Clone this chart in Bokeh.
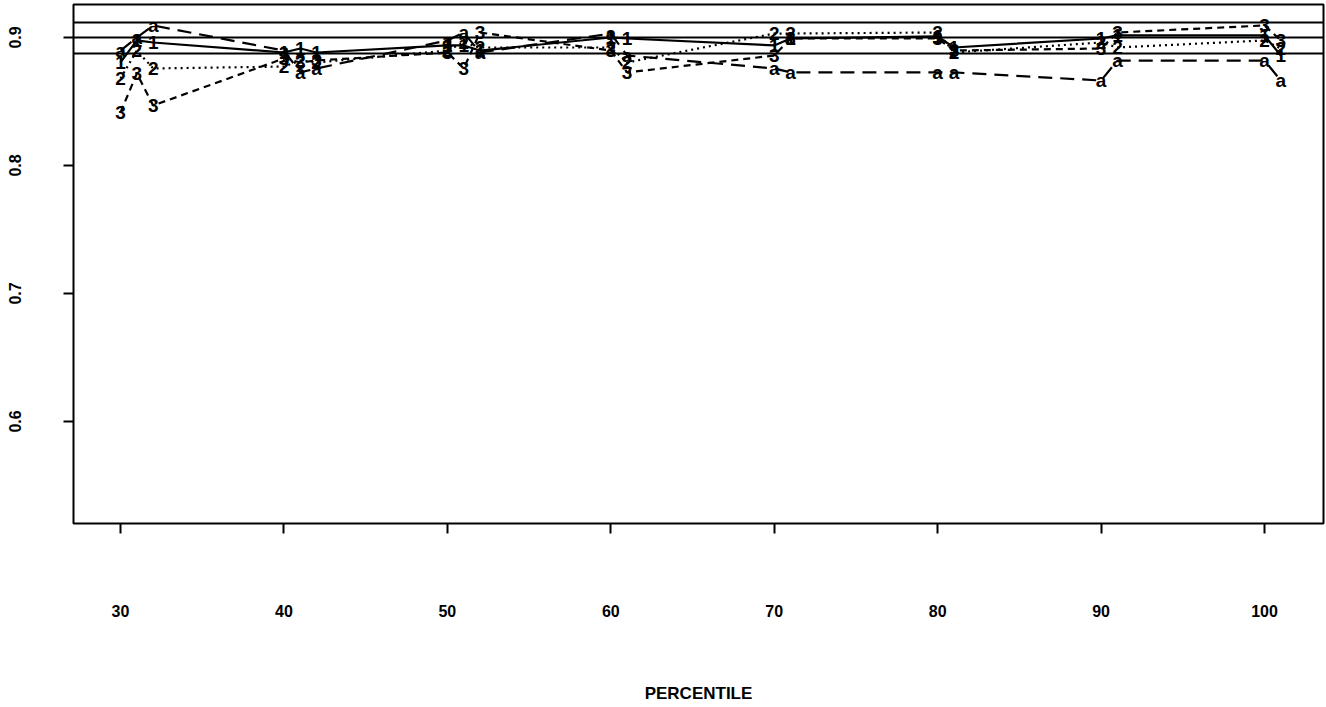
from bokeh.plotting import figure
from bokeh.models import Span, FixedTicker, Range1d
from bokeh.embed import file_html
from bokeh.resources import INLINE
from bokeh.core.properties import value

# Percentile positions (each cluster has slightly offset columns)
x = [30, 31, 32, 40, 41, 42, 50, 51, 52, 60, 61, 70, 71, 80, 81, 90, 91, 100, 101]

s1 = [0.8805, 0.8977, 0.8961, 0.8883, 0.8914, 0.8883, 0.8938, 0.8938, 0.8898, 0.9000,
      0.8992, 0.8938, 0.8992, 0.9008, 0.8922, 0.8992, 0.9016, 0.9016, 0.8859]
s2 = [0.8680, 0.8898, 0.8758, 0.8773, 0.8820, 0.8805, 0.8898, 0.8961, 0.8922, 0.8922,
      0.8805, 0.9031, 0.9031, 0.9039, 0.8883, 0.8961, 0.8922, 0.8977, 0.8914]
s3 = [0.8414, 0.8719, 0.8469, 0.8836, 0.8805, 0.8820, 0.8883, 0.8758, 0.9039, 0.8898,
      0.8727, 0.8859, 0.8992, 0.8992, 0.8898, 0.8914, 0.9039, 0.9094, 0.8977]
sa = [0.8898, 0.9000, 0.9094, 0.8898, 0.8727, 0.8758, 0.8977, 0.9039, 0.8883, 0.9031,
      0.8859, 0.8758, 0.8727, 0.8727, 0.8727, 0.8664, 0.8820, 0.8820, 0.8664]

series_labels = ["1", "2", "3", "a"]
series_values = [s1, s2, s3, sa]
series_dash = ["solid", "2 4", "7 5", "14 8"]

ref_lines = [0.9117, 0.9000, 0.8875]
x_ticks = [30, 40, 50, 60, 70, 80, 90, 100]
y_ticks = [0.6, 0.7, 0.8, 0.9]
x_title = "PERCENTILE"

FONT = "Liberation Sans"

p = figure(width=1326, height=707,
           x_range=Range1d(27.124, 103.61), y_range=Range1d(0.52031, 0.92578),
           output_backend="svg", toolbar_location=None,
           min_border_left=73, min_border_right=3, min_border_top=4, min_border_bottom=184)

p.xgrid.visible = False
p.ygrid.visible = False
p.outline_line_color = "black"
p.outline_line_width = 2
p.background_fill_color = "white"
p.border_fill_color = "white"

for yy in ref_lines:
    p.add_layout(Span(location=yy, dimension="width", line_color="black", line_width=2))

for lab, vals, dash in zip(series_labels, series_values, series_dash):
    p.line(x, vals, line_color="black", line_width=2.2, line_dash=dash)
    p.text(x=x, y=vals, text=[lab] * len(x), text_font=value(FONT), text_font_style="bold",
           text_font_size="19px", text_align="center", text_baseline="middle",
           text_color="black")

p.xaxis.ticker = FixedTicker(ticks=x_ticks)
p.yaxis.ticker = FixedTicker(ticks=y_ticks)
for ax in (p.xaxis, p.yaxis):
    ax.axis_line_color = None
    ax.major_tick_line_color = "black"
    ax.major_tick_line_width = 2
    ax.major_tick_in = 0
    ax.major_tick_out = 10
    ax.minor_tick_line_color = None
    ax.major_label_text_font = FONT
    ax.major_label_text_font_style = "bold"
    ax.major_label_text_font_size = "16px"
    ax.major_label_text_color = "black"

p.yaxis.major_label_orientation = "vertical"
p.yaxis.major_label_standoff = 42
p.xaxis.major_label_standoff = 71
p.xaxis.axis_label = x_title
p.xaxis.axis_label_standoff = 64
p.xaxis.axis_label_text_font = FONT
p.xaxis.axis_label_text_font_style = "bold"
p.xaxis.axis_label_text_font_size = "17px"
p.xaxis.axis_label_text_color = "black"

open("out.html", "w").write(file_html(p, INLINE))
